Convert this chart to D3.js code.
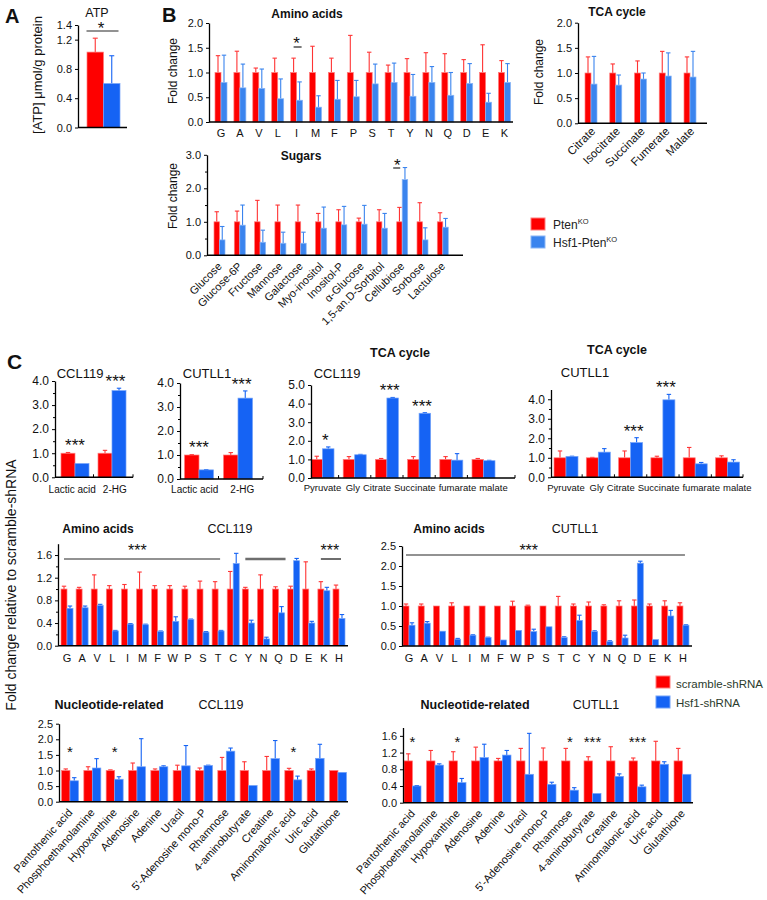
<!DOCTYPE html>
<html>
<head>
<meta charset="utf-8">
<script src="https://cdn.jsdelivr.net/npm/d3@7"></script>
<style>
body { margin: 0; background: #fff; }
svg text { font-family: Arial, "Liberation Sans", Helvetica, sans-serif; }
</style>
</head>
<body>
<svg id="fig" width="767" height="900"></svg>
<script>
// ---------- Panel A: ATP ----------
var atpCats = ["ATP"];
var atpPten = [1.03];
var atpPtenSd = [0.19];
var atpHsf1 = [0.60];
var atpHsf1Sd = [0.38];
var atpTicks = [0, 0.4, 0.8, 1.2, 1.4];

// ---------- Panel B: PtenKO vs Hsf1-PtenKO ----------
var bAminoCats = ["G", "A", "V", "L", "I", "M", "F", "P", "S", "T", "Y", "N", "Q", "D", "E", "K"];
var bAminoPten = [1, 1, 1, 1, 1, 1, 1, 1, 1, 1, 1, 1, 1, 1, 1, 1];
var bAminoPtenSd = [0.34, 0.43, 0.09, 0.29, 0.29, 0.53, 0.29, 0.75, 0.41, 0.15, 0.28, 0.40, 0.38, 0.26, 0.56, 0.24];
var bAminoHsf1 = [0.80, 0.69, 0.68, 0.47, 0.44, 0.30, 0.46, 0.51, 0.77, 0.80, 0.52, 0.80, 0.54, 0.78, 0.40, 0.80];
var bAminoHsf1Sd = [0.55, 0.48, 0.39, 0.40, 0.37, 0.23, 0.38, 0.33, 0.40, 0.39, 0.44, 0.32, 0.46, 0.40, 0.18, 0.38];
var bAminoSig = ["", "", "", "", "*", "", "", "", "", "", "", "", "", "", "", ""];

var bTcaCats = ["Citrate", "Isocitrate", "Succinate", "Fumerate", "Malate"];
var bTcaPten = [1, 1, 1, 1, 1];
var bTcaPtenSd = [0.32, 0.18, 0.24, 0.43, 0.32];
var bTcaHsf1 = [0.78, 0.76, 0.88, 0.94, 0.92];
var bTcaHsf1Sd = [0.55, 0.20, 0.12, 0.46, 0.51];

var sugarCats = ["Glucose", "Glucose-6P", "Fructose", "Mannose", "Galactose", "Myo-inositol",
  "Inositol-P", "α-Glucose", "1,5-an.D-Sorbitol", "Cellubiose", "Sorbose", "Lactulose"];
var sugarPten = [1, 1, 1, 1, 1, 1, 1, 1, 1, 1, 1, 1];
var sugarPtenSd = [0.30, 0.32, 0.64, 0.50, 0.50, 0.25, 0.36, 0.11, 0.36, 0.43, 0.57, 0.27];
var sugarHsf1 = [0.46, 0.90, 0.39, 0.36, 0.36, 0.81, 0.91, 0.93, 0.81, 2.26, 0.46, 0.84];
var sugarHsf1Sd = [0.40, 0.60, 0.36, 0.33, 0.33, 0.63, 0.55, 0.56, 0.44, 0.36, 0.36, 0.26];
var sugarSig = ["", "", "", "", "", "", "", "", "", "*", "", ""];

var bLegend = ["Pten", "Hsf1-Pten"];

// ---------- Panel C: scramble-shRNA vs Hsf1-shRNA ----------
var lacCats = ["Lactic acid", "2-HG"];
var lacCclScr = [1, 1];
var lacCclScrSd = [0.03, 0.12];
var lacCclHsf = [0.57, 3.60];
var lacCclHsfSd = [0, 0.10];
var lacCutScr = [1, 1];
var lacCutScrSd = [0.02, 0.10];
var lacCutHsf = [0.38, 3.37];
var lacCutHsfSd = [0.01, 0.30];
var lacSig = ["***", "***"];

var tcaCats = ["Pyruvate", "Gly", "Citrate", "Succinate", "fumarate", "malate"];
var tcaCclScr = [1, 1, 1, 1, 1, 1];
var tcaCclScrSd = [0.17, 0.15, 0.05, 0.15, 0.15, 0.05];
var tcaCclHsf = [1.57, 1.25, 4.30, 3.48, 0.96, 0.93];
var tcaCclHsfSd = [0.10, 0.02, 0.03, 0.03, 0.35, 0.02];
var tcaCclSig = ["*", "", "***", "***", "", ""];
var tcaCutScr = [1, 1, 1, 1, 1, 1];
var tcaCutScrSd = [0.35, 0.02, 0.35, 0.08, 0.53, 0.10];
var tcaCutHsf = [1.07, 1.29, 1.78, 3.97, 0.69, 0.78];
var tcaCutHsfSd = [0.01, 0.18, 0.25, 0.28, 0.07, 0.12];
var tcaCutSig = ["", "", "***", "***", "", ""];

var aaCats = ["G", "A", "V", "L", "I", "M", "F", "W", "P", "S", "T", "C", "Y", "N", "Q", "D", "E", "K", "H"];
var aaCclScr = [1, 1, 1, 1, 1, 1, 1, 1, 1, 1, 1, 1, 1, 1, 1, 1, 1, 1, 1];
var aaCclScrSd = [0.05, 0.03, 0.25, 0.06, 0.08, 0.30, 0.06, 0.06, 0.05, 0.14, 0.13, 0.31, 0.03, 0.25, 0.04, 0.05, 0.48, 0.13, 0.07];
var aaCclHsf = [0.66, 0.67, 0.71, 0.26, 0.38, 0.37, 0.25, 0.43, 0.46, 0.24, 0.26, 1.45, 0.40, 0.12, 0.58, 1.50, 0.40, 0.97, 0.48];
var aaCclHsfSd = [0.04, 0.03, 0.02, 0.01, 0.01, 0.01, 0.01, 0.08, 0.01, 0.01, 0.01, 0.18, 0.05, 0.03, 0.11, 0.04, 0.03, 0.06, 0.07];
var aaCclSpans = [["G", "T", "***"], ["Y", "Q", ""], ["K", "H", "***"]];
var aaCutScr = [1, 1, 1, 1, 1, 1, 1, 1, 1, 1, 1, 1, 1, 1, 1, 1, 1, 1, 1];
var aaCutScrSd = [0.05, 0.05, 0, 0.08, 0, 0, 0, 0.12, 0.02, 0, 0.24, 0.05, 0.10, 0.03, 0.13, 0.15, 0.05, 0.13, 0.08];
var aaCutHsf = [0.52, 0.57, 0.37, 0.17, 0.27, 0.21, 0.15, 0.39, 0.36, 0.48, 0.21, 0.64, 0.36, 0.11, 0.20, 2.07, 0.16, 0.75, 0.52];
var aaCutHsfSd = [0.06, 0.04, 0, 0.02, 0.01, 0.01, 0, 0, 0.06, 0, 0.02, 0.13, 0.02, 0.02, 0.07, 0.05, 0, 0.14, 0.01];
var aaCutSpans = [["G", "H", "***"]];

var nucCats = ["Pantothenic acid", "Phosphoethanolamine", "Hypoxanthine", "Adenosine", "Adenine", "Uracil",
  "5'-Adenosine mono-P", "Rhamnose", "4-aminobutyrate", "Creatine", "Aminomalonic acid", "Uric acid", "Glutathione"];
var nucCclScr = [1, 1, 1, 1, 1, 1, 1, 1, 1, 1, 1, 1, 1];
var nucCclScrSd = [0.05, 0.12, 0.02, 0.24, 0.05, 0.17, 0.08, 0.42, 0.28, 0.45, 0.07, 0.05, 0];
var nucCclHsf = [0.67, 1.08, 0.72, 1.12, 1.12, 1.15, 1.16, 1.62, 0.52, 1.38, 0.70, 1.39, 0.94];
var nucCclHsfSd = [0.10, 0.30, 0.08, 0.90, 0.03, 0.65, 0.01, 0.10, 0, 0.58, 0.12, 0.45, 0];
var nucCclSig = ["*", "", "*", "", "", "", "", "", "", "", "*", "", ""];
var nucCutScr = [1, 1, 1, 1, 1, 1, 1, 1, 1, 1, 1, 1, 1];
var nucCutScrSd = [0.17, 0.25, 0.22, 0.33, 0.06, 0.30, 0.31, 0.30, 0.10, 0.34, 0.07, 0.47, 0.30];
var nucCutHsf = [0.40, 0.90, 0.48, 1.08, 1.14, 0.68, 0.44, 0.30, 0.22, 0.63, 0.38, 0.92, 0.68];
var nucCutHsfSd = [0.01, 0.03, 0.10, 0.32, 0.11, 0.98, 0.05, 0.06, 0, 0.06, 0.04, 0.06, 0];
var nucCutSig = ["*", "", "*", "", "", "", "", "*", "***", "", "***", "", ""];

var cLegend = ["scramble-shRNA", "Hsf1-shRNA"];

var RED = "#fe0000", RED_EDGE = "#ff7c7c", RED_ERR = "#ff3434";
var BLUE_B = "#3a84ee", BLUE_B_EDGE = "#8ab6f6";
var BLUE_C = "#1563f4", BLUE_C_EDGE = "#72a2f8";

var svg = d3.select("#fig");

function label(x, y, str, size, opt) {
    opt = opt || {};
    var t = svg.append("text")
        .attr("x", x)
        .attr("y", y)
        .attr("font-size", size)
        .attr("text-anchor", opt.anchor || "middle")
        .attr("font-weight", opt.bold ? "bold" : null)
        .attr("fill", opt.fill || "#111")
        .text(str);
    if (opt.rotate) {
        t.attr("transform", "rotate(" + opt.rotate + "," + x + "," + y + ")");
    }
    return t;
}

/*
 * Draws one grouped bar chart (red + blue bar per category) with upper
 * error bars, y axis, baseline and category labels.
 */
function chart(o) {
    var n = o.cats.length;
    var x = d3.scaleBand().domain(o.cats)
        .range([o.c0 - o.step / 2, o.c0 - o.step / 2 + n * o.step]);
    var y = d3.scaleLinear().domain([0, o.ymax]).range([o.y0, o.ytop]);
    var mid = function(c) { return x(c) + x.bandwidth() / 2; };
    var g = svg.append("g");
    var bw = o.barW;
    var cap = o.cap || 2.2;

    var series = [
        {v: o.red, sd: o.redSd, off: -bw, fill: RED, edge: RED_EDGE, err: RED_ERR},
        {v: o.blue, sd: o.blueSd, off: 0, fill: o.blueFill || BLUE_C,
            edge: o.blueEdge || BLUE_C_EDGE, err: o.blueFill || BLUE_C}
    ];

    series.forEach(function(s) {
        var rows = o.cats.map(function(c, i) { return {c: c, v: s.v[i], sd: s.sd[i]}; });
        var cx = function(d) { return mid(d.c) + s.off + bw / 2; };
        var withErr = rows.filter(function(d) { return d.sd > 0; });
        var eg = g.append("g").attr("stroke", s.err).attr("stroke-width", 1.1);
        eg.selectAll("line.v").data(withErr).join("line")
            .attr("class", "v")
            .attr("x1", cx).attr("x2", cx)
            .attr("y1", function(d) { return y(d.v); })
            .attr("y2", function(d) { return y(d.v + d.sd); });
        eg.selectAll("line.c").data(withErr).join("line")
            .attr("class", "c")
            .attr("x1", function(d) { return cx(d) - cap; })
            .attr("x2", function(d) { return cx(d) + cap; })
            .attr("y1", function(d) { return y(d.v + d.sd); })
            .attr("y2", function(d) { return y(d.v + d.sd); });
        g.append("g").selectAll("rect").data(rows).join("rect")
            .attr("x", function(d) { return mid(d.c) + s.off; })
            .attr("y", function(d) { return y(d.v); })
            .attr("width", bw)
            .attr("height", function(d) { return y(0) - y(d.v); })
            .attr("fill", s.fill)
            .attr("stroke", s.edge)
            .attr("stroke-width", 0.7);
    });

    // y axis
    var ax = g.append("g")
        .attr("transform", "translate(" + o.x0 + ",0)")
        .call(d3.axisLeft(y).tickValues(o.ticks).tickFormat(d3.format(".1f"))
            .tickSize(3).tickSizeOuter(0).tickPadding(3));
    ax.attr("font-size", o.tickFont).attr("font-family", null);
    ax.select(".domain").attr("stroke-width", 1.3);
    ax.selectAll("text").attr("fill", "#111");
    if (o.minor) {
        var mx = g.append("g")
            .attr("transform", "translate(" + o.x0 + ",0)")
            .call(d3.axisLeft(y).tickValues(o.minor).tickFormat("").tickSize(2).tickSizeOuter(0));
        mx.select(".domain").remove();
    }

    // baseline
    g.append("line")
        .attr("x1", o.x0).attr("x2", o.x1)
        .attr("y1", y(0)).attr("y2", y(0))
        .attr("stroke", "#000").attr("stroke-width", 1.6);

    if (o.sepTicks) {
        var seps = o.cats.slice(1).map(function(c) { return x(c); }).concat([o.x1]);
        g.append("g").selectAll("line").data(seps).join("line")
            .attr("x1", function(d) { return d; }).attr("x2", function(d) { return d; })
            .attr("y1", y(0)).attr("y2", y(0) - 3)
            .attr("stroke", "#000").attr("stroke-width", 1);
    }

    // category labels
    if (o.labelY != null) {
        var t = g.append("g").attr("font-size", o.labelFont).attr("fill", "#111")
            .selectAll("text").data(o.cats).join("text").text(function(d) { return d; });
        if (o.rot) {
            t.attr("text-anchor", "end")
                .attr("transform", function(d) {
                    return "translate(" + (mid(d) + o.labelDx) + "," + o.labelY + ") rotate(" + (-o.rot) + ")";
                });
        } else {
            t.attr("text-anchor", "middle").attr("x", mid).attr("y", o.labelY);
        }
        if (o.spread != null) {
            var items = t.nodes().map(function(nd, i) {
                return {nd: nd, w: nd.getComputedTextLength(), c: mid(o.cats[i])};
            });
            for (var k = 0; k < 40; k++) {
                for (var i = 1; i < items.length; i++) {
                    var a = items[i - 1], b = items[i];
                    var ov = (a.c + a.w / 2 + o.spread) - (b.c - b.w / 2);
                    if (ov > 0) { a.c -= ov / 2; b.c += ov / 2; }
                }
            }
            items.forEach(function(it) { d3.select(it.nd).attr("x", it.c); });
        }
    }

    // significance stars
    if (o.sig) {
        o.cats.forEach(function(c, i) {
            var s = o.sig[i];
            if (!s) return;
            var rTop = o.red[i] + o.redSd[i], bTop = o.blue[i] + o.blueSd[i];
            var cx, cy;
            if (o.sigY == null) {
                cy = y(Math.max(rTop, bTop)) - 11;
                cx = bTop > rTop + 0.4 ? mid(c) + bw / 4 : mid(c);
            } else {
                cy = o.sigY;
                cx = mid(c) + (o.sigDx || 0);
            }
            g.append("text")
                .attr("x", cx).attr("y", cy + 0.58 * o.sigFont)
                .attr("text-anchor", "middle")
                .attr("font-size", o.sigFont)
                .attr("fill", "#111")
                .text(s);
        });
    }
    return {x: x, y: y, mid: mid, g: g};
}

function spans(c, list, lineY, starY, starFrac, widths) {
    list.forEach(function(s, i) {
        var x1 = c.mid(s[0]) - 3, x2 = c.mid(s[1]) + (i === 1 ? 7 : 2);
        c.g.append("line")
            .attr("x1", x1).attr("x2", x2).attr("y1", lineY).attr("y2", lineY)
            .attr("stroke", "#6e6e6e").attr("stroke-width", widths[i]);
        if (s[2]) {
            c.g.append("text")
                .attr("x", x1 + (x2 - x1) * starFrac[i] + (starFrac[i] === 0 ? 9 : 0))
                .attr("y", starY + 0.58 * 16)
                .attr("text-anchor", "middle").attr("font-size", 16).attr("fill", "#111")
                .text(s[2]);
        }
    });
}

// ================= Panel A =================
label(5, 23, "A", 20, {anchor: "start", bold: true});
label(97, 17, atpCats[0], 12.5);
label(42, 75, "[ATP] μmol/g protein", 13, {rotate: -90});
var cA = chart({
    cats: atpCats, red: atpPten, redSd: atpPtenSd, blue: atpHsf1, blueSd: atpHsf1Sd,
    x0: 78, x1: 127, c0: 103.5, step: 40, barW: 16.5, cap: 2.5,
    y0: 127.5, ytop: 25, ymax: 1.4, ticks: atpTicks, tickFont: 11
});
cA.g.append("line")
    .attr("x1", cA.mid(atpCats[0]) - 17).attr("x2", cA.mid(atpCats[0]) + 15)
    .attr("y1", 31).attr("y2", 31)
    .attr("stroke", "#6e6e6e").attr("stroke-width", 1.5);
cA.g.append("text").attr("x", cA.mid(atpCats[0]) - 2.5).attr("y", 24.5 + 0.58 * 17)
    .attr("text-anchor", "middle").attr("font-size", 17).attr("fill", "#111").text("*");

// ================= Panel B =================
label(162, 22, "B", 20, {anchor: "start", bold: true});
label(307, 17.5, "Amino acids", 12, {bold: true});
label(177, 71, "Fold change", 12, {rotate: -90});
var cBa = chart({
    cats: bAminoCats, red: bAminoPten, redSd: bAminoPtenSd, blue: bAminoHsf1, blueSd: bAminoHsf1Sd,
    blueFill: BLUE_B, blueEdge: BLUE_B_EDGE,
    x0: 209, x1: 513, c0: 221, step: 18.9, barW: 6,
    y0: 122, ytop: 23, ymax: 2, ticks: [0, 0.5, 1, 1.5, 2], tickFont: 11,
    labelY: 137, labelFont: 11,
    sig: bAminoSig, sigY: 39.5, sigFont: 17
});
cBa.g.append("line")
    .attr("x1", cBa.mid("I") - 3).attr("x2", cBa.mid("I") + 5)
    .attr("y1", 47).attr("y2", 47).attr("stroke", "#333").attr("stroke-width", 1.3);

label(617, 16, "TCA cycle", 12, {bold: true});
label(543, 72, "Fold change", 12, {rotate: -90});
chart({
    cats: bTcaCats, red: bTcaPten, redSd: bTcaPtenSd, blue: bTcaHsf1, blueSd: bTcaHsf1Sd,
    blueFill: BLUE_B, blueEdge: BLUE_B_EDGE,
    x0: 578, x1: 707, c0: 591, step: 24.75, barW: 6,
    y0: 123.3, ytop: 22.7, ymax: 2, ticks: [0, 0.5, 1, 1.5, 2], tickFont: 11,
    labelY: 132, labelFont: 11.5, rot: 45, labelDx: 5
});

label(301, 160, "Sugars", 12, {bold: true});
label(177, 196, "Fold change", 12, {rotate: -90});
var cBs = chart({
    cats: sugarCats, red: sugarPten, redSd: sugarPtenSd, blue: sugarHsf1, blueSd: sugarHsf1Sd,
    blueFill: BLUE_B, blueEdge: BLUE_B_EDGE,
    x0: 207, x1: 463, c0: 219.5, step: 20.3, barW: 5.5,
    y0: 255.3, ytop: 154.8, ymax: 3, ticks: [0, 1, 2, 3], minor: [0.5, 1.5, 2.5], tickFont: 11,
    labelY: 267, labelFont: 11, rot: 45, labelDx: 3,
    sig: sugarSig, sigY: 161, sigFont: 17, sigDx: -5
});
cBs.g.append("line")
    .attr("x1", cBs.mid("Cellubiose") - 9).attr("x2", cBs.mid("Cellubiose") - 2)
    .attr("y1", 168).attr("y2", 168).attr("stroke", "#333").attr("stroke-width", 1.3);

// legend B
svg.append("g").selectAll("rect").data(bLegend).join("rect")
    .attr("x", 531).attr("y", function(d, i) { return 218 + i * 18; })
    .attr("width", 14).attr("height", 12)
    .attr("fill", function(d, i) { return i ? BLUE_B : RED; })
    .attr("stroke", function(d, i) { return i ? BLUE_B_EDGE : RED_EDGE; });
var lgB = svg.append("g").selectAll("text").data(bLegend).join("text")
    .attr("x", 553).attr("y", function(d, i) { return 228.5 + i * 18; })
    .attr("font-size", 12).attr("fill", "#222");
lgB.append("tspan").text(function(d) { return d; });
lgB.append("tspan").attr("font-size", 7.5).attr("dy", -5).text("KO");

// ================= Panel C =================
label(7, 369, "C", 21, {anchor: "start", bold: true});
label(16, 585, "Fold change relative to scramble-shRNA", 14, {rotate: -90});

label(80, 378, "CCL119", 13);
chart({
    cats: lacCats, red: lacCclScr, redSd: lacCclScrSd, blue: lacCclHsf, blueSd: lacCclHsfSd,
    x0: 55, x1: 133, c0: 75, step: 37, barW: 14,
    y0: 477.3, ytop: 381, ymax: 4, ticks: [0, 1, 2, 3, 4], minor: [0.5, 1.5, 2.5, 3.5], tickFont: 12,
    labelY: 492.5, labelFont: 10, spread: 7, sepTicks: true,
    sig: lacSig, sigFont: 17
});

label(207, 378, "CUTLL1", 13);
chart({
    cats: lacCats, red: lacCutScr, redSd: lacCutScrSd, blue: lacCutHsf, blueSd: lacCutHsfSd,
    x0: 180, x1: 263, c0: 199, step: 39, barW: 14.5,
    y0: 479, ytop: 383, ymax: 4, ticks: [0, 1, 2, 3, 4], minor: [0.5, 1.5, 2.5, 3.5], tickFont: 12,
    labelY: 492.5, labelFont: 10, spread: 12, sepTicks: true,
    sig: lacSig, sigFont: 17
});

label(400, 357, "TCA cycle", 12.5, {bold: true});
label(337, 378, "CCL119", 13);
chart({
    cats: tcaCats, red: tcaCclScr, redSd: tcaCclScrSd, blue: tcaCclHsf, blueSd: tcaCclHsfSd,
    x0: 311, x1: 515, c0: 322.5, step: 32.2, barW: 11.5,
    y0: 478, ytop: 385, ymax: 5, ticks: [0, 1, 2, 3, 4, 5], tickFont: 12,
    labelY: 491, labelFont: 9.5, spread: 3, sepTicks: true,
    sig: tcaCclSig, sigFont: 17
});

label(617, 354, "TCA cycle", 12.5, {bold: true});
label(585, 377, "CUTLL1", 13);
chart({
    cats: tcaCats, red: tcaCutScr, redSd: tcaCutScrSd, blue: tcaCutHsf, blueSd: tcaCutHsfSd,
    x0: 551, x1: 743, c0: 566, step: 32.3, barW: 12,
    y0: 477.3, ytop: 389.5, ymax: 4.5, ticks: [0, 1, 2, 3, 4], minor: [0.5, 1.5, 2.5, 3.5], tickFont: 12,
    labelY: 491, labelFont: 9.5, spread: 3, sepTicks: true,
    sig: tcaCutSig, sigFont: 17
});

label(98, 533, "Amino acids", 12, {bold: true});
label(230, 533, "CCL119", 12.5);
var cAa1 = chart({
    cats: aaCats, red: aaCclScr, redSd: aaCclScrSd, blue: aaCclHsf, blueSd: aaCclHsfSd,
    x0: 58, x1: 348, c0: 67, step: 15.11, barW: 6,
    y0: 645.7, ytop: 543.7, ymax: 1.8, ticks: [0, 0.4, 0.8, 1.2, 1.6], minor: [0.2, 0.6, 1.0, 1.4], tickFont: 11,
    labelY: 662, labelFont: 11
});
spans(cAa1, aaCclSpans, 559, 547, [0.47, 0, 0], [1.5, 2.5, 2]);

label(449, 533, "Amino acids", 12, {bold: true});
label(575, 533, "CUTLL1", 12.5);
var cAa2 = chart({
    cats: aaCats, red: aaCutScr, redSd: aaCutScrSd, blue: aaCutHsf, blueSd: aaCutHsfSd,
    x0: 402, x1: 692, c0: 409, step: 15.22, barW: 6,
    y0: 646, ytop: 546, ymax: 2.5, ticks: [0, 0.5, 1, 1.5, 2, 2.5], tickFont: 11,
    labelY: 662, labelFont: 11
});
spans(cAa2, aaCutSpans, 555, 547, [0.44], [1.3]);

// legend C
svg.append("g").selectAll("rect").data(cLegend).join("rect")
    .attr("x", 656).attr("y", function(d, i) { return 676 + i * 20; })
    .attr("width", 14).attr("height", 12)
    .attr("fill", function(d, i) { return i ? BLUE_C : RED; })
    .attr("stroke", function(d, i) { return i ? BLUE_C_EDGE : RED_EDGE; });
svg.append("g").selectAll("text").data(cLegend).join("text")
    .attr("x", 676).attr("y", function(d, i) { return 687.5 + i * 19; })
    .attr("font-size", 11.5).attr("fill", "#2a3b2c")
    .text(function(d) { return d; });

label(109, 709, "Nucleotide-related", 12.5, {bold: true});
label(221, 709, "CCL119", 12.5);
chart({
    cats: nucCats, red: nucCclScr, redSd: nucCclScrSd, blue: nucCclHsf, blueSd: nucCclHsfSd,
    x0: 59, x1: 348, c0: 70, step: 22.33, barW: 8.5,
    y0: 801.7, ytop: 723.7, ymax: 2.5, ticks: [0, 0.5, 1, 1.5, 2, 2.5], tickFont: 11,
    labelY: 813, labelFont: 11, rot: 48, labelDx: 3,
    sig: nucCclSig, sigY: 748, sigFont: 15
});

label(475, 709, "Nucleotide-related", 12.5, {bold: true});
label(596, 709, "CUTLL1", 12.5);
chart({
    cats: nucCats, red: nucCutScr, redSd: nucCutScrSd, blue: nucCutHsf, blueSd: nucCutHsfSd,
    x0: 403, x1: 693, c0: 412.5, step: 22.5, barW: 8.5,
    y0: 802.7, ytop: 727.5, ymax: 1.8, ticks: [0, 0.4, 0.8, 1.2, 1.6], tickFont: 11,
    labelY: 814, labelFont: 11, rot: 48, labelDx: 3,
    sig: nucCutSig, sigY: 738, sigFont: 15
});
</script>
</body>
</html>
